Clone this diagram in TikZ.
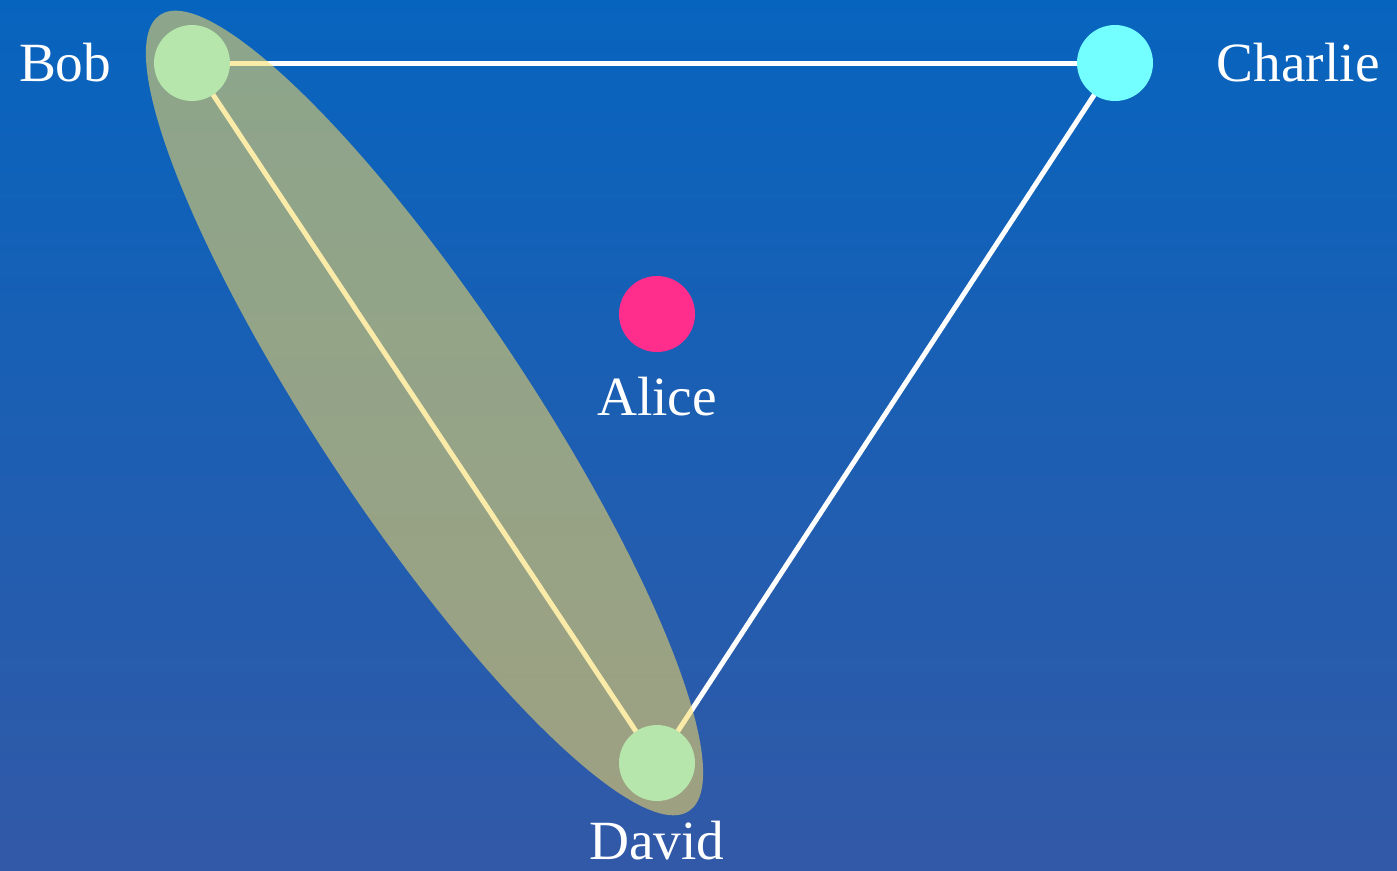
\documentclass[tikz,border=0pt]{standalone}
\usepackage{fontspec}
\setmainfont{Liberation Serif}
\usetikzlibrary{positioning,calc}

\definecolor{bgtop}{HTML}{0764BE}
\definecolor{bgbottom}{HTML}{3259A7}
\definecolor{pale}{HTML}{B6E6AC}
\definecolor{aqua}{HTML}{73FFFF}
\definecolor{rose}{HTML}{FF2D8C}
\definecolor{khaki}{HTML}{F9DC63}

\tikzset{
  vertex/.style={circle,minimum size=1.52cm,inner sep=0pt},
  link/.style={white,line width=0.1cm},
  who/.style={text=white,font=\fontsize{31.5}{36}\selectfont,inner sep=0pt},
  group/.style={fill=khaki,fill opacity=0.55}
}

\begin{document}
\begin{tikzpicture}[x=0.02cm,y=-0.02cm]
  \useasboundingbox (0,0) rectangle (1397,870);
  \shade[top color=bgtop,bottom color=bgbottom] (0,0) rectangle (1397,870);

  \coordinate (bobc) at (192,63);
  \coordinate (charc) at (1115,63);
  \coordinate (alic) at (657,314);
  \coordinate (davc) at (657,763);

  % connections
  \draw[link] (bobc) -- (charc);
  \draw[link] (charc) -- (davc);
  \draw[link] (bobc) -- (davc);

  % highlighted pair
  \coordinate (mid) at ($(bobc)!0.5!(davc)$);
  \fill[group,rotate around={-56.4:(mid)}] (mid) ellipse [x radius=9.56cm,y radius=2.1cm];

  \node[vertex,fill=pale] (bob) at (bobc) {};
  \node[vertex,fill=aqua] (char) at (charc) {};
  \node[vertex,fill=rose] (ali) at (alic) {};
  \node[vertex,fill=pale] (dav) at (davc) {};

  \node[who,left=0.84cm of bob] (bobl) {Bob};
  \node[who,right=1.26cm of char] (charl) {Charlie};
  \node[who,below=0.48cm of ali] (alil) {Alice};
  \node[who,below=0.38cm of dav] (davl) {David};
\end{tikzpicture}
\end{document}
